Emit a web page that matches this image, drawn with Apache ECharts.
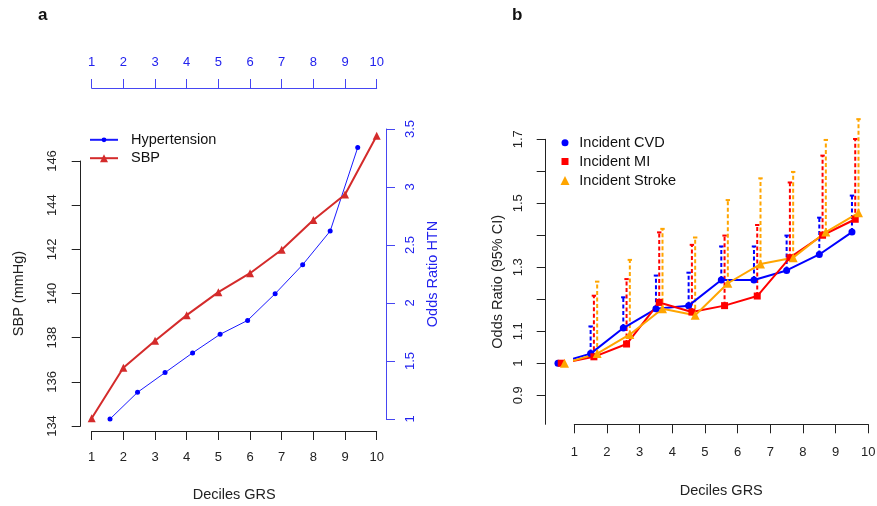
<!DOCTYPE html>
<html>
<head>
<meta charset="utf-8">
<script src="https://cdn.jsdelivr.net/npm/echarts@6/dist/echarts.min.js"></script>
<style>
  html, body { margin: 0; padding: 0; background: #fff; }
  #chart { width: 877px; height: 506px; }
</style>
</head>
<body>
<div id="chart"></div>
<script>
// ---------------- DATA ----------------
const deciles = [1, 2, 3, 4, 5, 6, 7, 8, 9, 10];
const xTickLabels = ['1', '2', '3', '4', '5', '6', '7', '8', '9', '10'];

// Panel a
const sbpMean = [134.35, 136.64, 137.86, 139.02, 140.06, 140.92, 141.98, 143.33, 144.48, 147.14];
const htnOR = [1.00, 1.23, 1.40, 1.57, 1.73, 1.85, 2.08, 2.33, 2.62, 3.34];
const sbpTicks = [134, 136, 138, 140, 142, 144, 146];
const htnTicks = [1, 1.5, 2, 2.5, 3, 3.5];

// Panel b
const cvdOR = [1.00, 1.03, 1.11, 1.17, 1.18, 1.26, 1.26, 1.29, 1.34, 1.41];
const cvdUpper = [null, 1.115, 1.206, 1.274, 1.283, 1.365, 1.365, 1.399, 1.455, 1.524];
const miOR = [1.00, 1.02, 1.06, 1.19, 1.16, 1.18, 1.21, 1.33, 1.40, 1.45];
const miUpper = [null, 1.211, 1.263, 1.409, 1.370, 1.399, 1.432, 1.565, 1.649, 1.701];
const strokeOR = [1.00, 1.03, 1.09, 1.17, 1.15, 1.25, 1.31, 1.33, 1.41, 1.47];
const strokeUpper = [null, 1.255, 1.323, 1.420, 1.393, 1.510, 1.578, 1.598, 1.698, 1.763];
const orTickValues = [0.9, 1.0, 1.1, 1.2, 1.3, 1.4, 1.5, 1.6, 1.7];
const orTickLabels = [0.9, 1, 1.1, 1.3, 1.5, 1.7];

// ---------------- STYLE ----------------
const FONT = '"Liberation Sans", Arial, Helvetica, sans-serif';
const AXIS_DARK = '#222222';
const BLUE_AX = '#4646f2';
const BLUE_TXT = '#2222ee';
const RED_A = '#d42b2b';
const BLUE_A = '#1a1aff';
const C_CVD = '#0000ff', C_MI = '#ff0000', C_STROKE = '#ffa500';
const OFF_CVD = -0.5, OFF_MI = -0.4, OFF_STROKE = -0.3;

function pairs(xs, ys, off) { return xs.map((x, i) => [x + (off || 0), ys[i]]); }
function errData(xs, mid, up, off) {
  const out = [];
  xs.forEach((x, i) => { if (up[i] != null) out.push([x + off, mid[i], up[i]]); });
  return out;
}
function errSeries(name, data, color, xi, yi) {
  return {
    type: 'custom', name: name, xAxisIndex: xi, yAxisIndex: yi, clip: false, z: 1,
    silent: true, data: data,
    renderItem: function (params, api) {
      const p0 = api.coord([api.value(0), api.value(1)]);
      const p1 = api.coord([api.value(0), api.value(2)]);
      return {
        type: 'group', children: [
          { type: 'line', shape: { x1: p0[0], y1: p0[1], x2: p1[0], y2: p1[1] },
            style: { stroke: color, lineWidth: 2, lineDash: [4, 2.5] } },
          { type: 'line', shape: { x1: p1[0] - 2.2, y1: p1[1], x2: p1[0] + 2.2, y2: p1[1] },
            style: { stroke: color, lineWidth: 2 } }
        ]
      };
    }
  };
}

const tickLabelStyle = { fontFamily: FONT, fontSize: 13, color: AXIS_DARK };
const legendText = { fontFamily: FONT, fontSize: 14.5, color: '#111', lineHeight: 14 };

function legendA(name, top, h) {
  return { orient: 'vertical', left: 89, top: top, padding: 0, itemWidth: 28, itemHeight: h,
    data: [name], textStyle: Object.assign({ padding: [0, 0, 0, 8] }, legendText) };
}
function legendB(name, icon, top, s) {
  return { orient: 'vertical', left: 565 - s / 2, top: top, padding: 0, itemWidth: s, itemHeight: s,
    data: [{ name: name, icon: icon }],
    textStyle: Object.assign({ padding: [0, 0, 0, 14.3 - s / 2 - 5] }, legendText) };
}

const chart = echarts.init(document.getElementById('chart'), null, { renderer: 'canvas' });
const option = {
  animation: false,
  backgroundColor: '#ffffff',
  textStyle: { fontFamily: FONT },
  title: [
    { text: 'a', left: 38, top: 7, padding: 0, textStyle: { fontFamily: FONT, fontSize: 17, fontWeight: 'bold', color: '#111' } },
    { text: 'b', left: 512, top: 7, padding: 0, textStyle: { fontFamily: FONT, fontSize: 17, fontWeight: 'bold', color: '#111' } }
  ],
  grid: [
    { left: 91.7, width: 285, top: 161, height: 265, outerBoundsMode: 'none' },
    { left: 91.7, width: 285, top: 129, height: 290, outerBoundsMode: 'none' },
    { left: 574.3, width: 294, top: 139.3, height: 285, outerBoundsMode: 'none' }
  ],
  xAxis: [
    { type: 'value', gridIndex: 0, position: 'bottom', min: 1, max: 10, interval: 1, offset: 5,
      name: 'Deciles GRS', nameLocation: 'middle', nameGap: 56,
      nameTextStyle: { fontFamily: FONT, fontSize: 14.5, color: AXIS_DARK },
      axisLine: { show: true, lineStyle: { color: AXIS_DARK, width: 1 } },
      axisTick: { show: true, length: 9, inside: false, lineStyle: { color: AXIS_DARK } },
      axisLabel: Object.assign({ margin: 20, formatter: v => xTickLabels[v - 1] }, tickLabelStyle),
      splitLine: { show: false } },
    { type: 'value', gridIndex: 1, position: 'top', min: 1, max: 10, interval: 1, offset: 41,
      axisLine: { show: true, lineStyle: { color: BLUE_AX, width: 1 } },
      axisTick: { show: true, length: 9, lineStyle: { color: BLUE_AX } },
      axisLabel: Object.assign({}, tickLabelStyle, { margin: 19, color: BLUE_TXT, formatter: v => xTickLabels[v - 1] }),
      splitLine: { show: false } },
    { type: 'value', gridIndex: 1, min: 0.335, max: 10.69, show: false, splitLine: { show: false } },
    { type: 'value', gridIndex: 2, position: 'bottom', min: 1, max: 10, interval: 1, offset: 0,
      name: 'Deciles GRS', nameLocation: 'middle', nameGap: 59,
      nameTextStyle: { fontFamily: FONT, fontSize: 14.5, color: AXIS_DARK },
      axisLine: { show: true, lineStyle: { color: AXIS_DARK, width: 1 } },
      axisTick: { show: true, length: 9, lineStyle: { color: AXIS_DARK } },
      axisLabel: Object.assign({ margin: 22, formatter: v => xTickLabels[v - 1] }, tickLabelStyle),
      splitLine: { show: false } }
  ],
  yAxis: [
    { type: 'value', gridIndex: 0, position: 'left', min: 134, max: 146, interval: 2, offset: 11,
      name: 'SBP (mmHg)', nameLocation: 'middle', nameGap: 54, nameRotate: 90,
      nameTextStyle: { fontFamily: FONT, fontSize: 14.5, color: AXIS_DARK },
      axisLine: { show: true, lineStyle: { color: AXIS_DARK, width: 1 } },
      axisTick: { show: true, length: 9, lineStyle: { color: AXIS_DARK } },
      axisLabel: Object.assign({ margin: 22, rotate: 90, customValues: sbpTicks }, tickLabelStyle),
      splitLine: { show: false } },
    { type: 'value', gridIndex: 1, position: 'right', min: 1, max: 3.5, interval: 0.5, offset: 9.3,
      name: 'Odds Ratio HTN', nameLocation: 'middle', nameGap: 39, nameRotate: 90,
      nameTextStyle: { fontFamily: FONT, fontSize: 14.5, color: BLUE_TXT },
      axisLine: { show: true, lineStyle: { color: BLUE_AX, width: 1 } },
      axisTick: { show: true, length: 9, lineStyle: { color: BLUE_AX } },
      axisLabel: Object.assign({}, tickLabelStyle, { margin: 18, rotate: 90, color: BLUE_TXT, customValues: htnTicks }),
      splitLine: { show: false } },
    { type: 'value', gridIndex: 2, position: 'left', min: 0.809, max: 1.7, offset: 28.6,
      name: 'Odds Ratio (95% CI)', nameLocation: 'middle', nameGap: 40, nameRotate: 90,
      nameTextStyle: { fontFamily: FONT, fontSize: 14.5, color: AXIS_DARK },
      axisLine: { show: true, lineStyle: { color: AXIS_DARK, width: 1 } },
      axisTick: { show: true, length: 9, lineStyle: { color: AXIS_DARK }, customValues: orTickValues },
      axisLabel: Object.assign({ margin: 21, rotate: 90, customValues: orTickLabels }, tickLabelStyle),
      splitLine: { show: false } }
  ],
  legend: [
    legendA('Hypertension', 132.3, 6),
    legendA('SBP', 150.7, 10),
    legendB('Incident CVD', 'circle', 135.3, 7),
    legendB('Incident MI', 'rect', 154, 7),
    legendB('Incident Stroke', 'triangle', 173, 9)
  ],
  series: [
    { type: 'line', name: 'Hypertension', xAxisIndex: 2, yAxisIndex: 1, clip: false, z: 3,
      data: pairs(deciles, htnOR), symbol: 'circle', symbolSize: 5,
      itemStyle: { color: '#0000ff' }, lineStyle: { color: BLUE_A, width: 1 } },
    { type: 'line', name: 'SBP', xAxisIndex: 0, yAxisIndex: 0, clip: false, z: 3,
      data: pairs(deciles, sbpMean), symbol: 'triangle', symbolSize: 8,
      itemStyle: { color: RED_A }, lineStyle: { color: RED_A, width: 2 } },

    errSeries('CVD CI', errData(deciles, cvdOR, cvdUpper, OFF_CVD), C_CVD, 3, 2),
    errSeries('MI CI', errData(deciles, miOR, miUpper, OFF_MI), C_MI, 3, 2),
    errSeries('Stroke CI', errData(deciles, strokeOR, strokeUpper, OFF_STROKE), C_STROKE, 3, 2),

    { type: 'line', name: 'Incident CVD', xAxisIndex: 3, yAxisIndex: 2, clip: false, z: 3,
      data: pairs(deciles, cvdOR, OFF_CVD), symbol: 'circle', symbolSize: 7,
      itemStyle: { color: C_CVD }, lineStyle: { color: C_CVD, width: 2 } },
    { type: 'line', name: 'Incident MI', xAxisIndex: 3, yAxisIndex: 2, clip: false, z: 3,
      data: pairs(deciles, miOR, OFF_MI), symbol: 'rect', symbolSize: 7,
      itemStyle: { color: C_MI }, lineStyle: { color: C_MI, width: 2 } },
    { type: 'line', name: 'Incident Stroke', xAxisIndex: 3, yAxisIndex: 2, clip: false, z: 3,
      data: pairs(deciles, strokeOR, OFF_STROKE), symbol: 'triangle', symbolSize: 9,
      itemStyle: { color: C_STROKE }, lineStyle: { color: C_STROKE, width: 2 } }
  ]
};
chart.setOption(option);
</script>
</body>
</html>
